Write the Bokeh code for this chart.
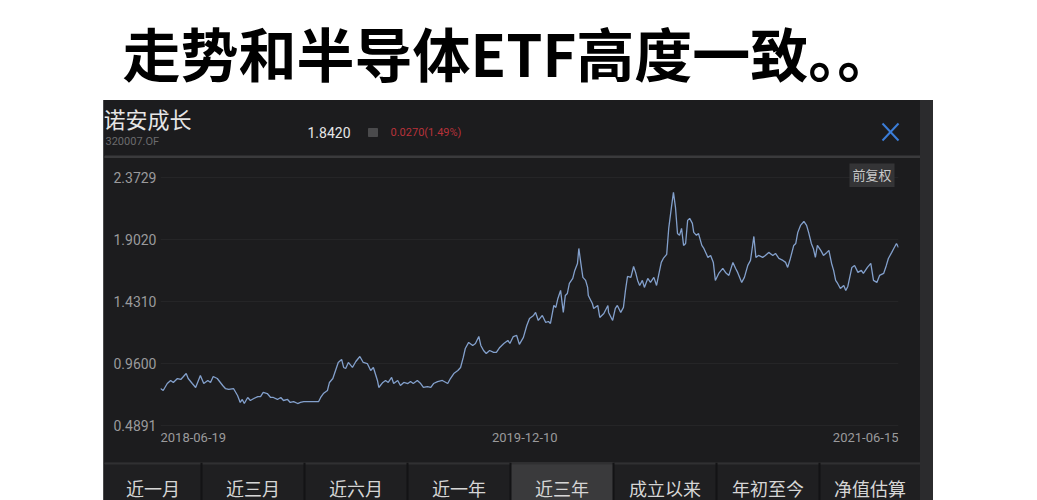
import pandas as pd
from bokeh.plotting import figure
from bokeh.models import Range1d, FixedTicker, PrintfTickFormatter, Spacer, ColumnDataSource
from bokeh.layouts import column, row
from bokeh.core.properties import value
from bokeh.embed import file_html
from bokeh.resources import INLINE

# ---------------- data ----------------
headline = "走势和半导体ETF高度一致。。"
fund_name = "诺安成长"
fund_code = "320007.OF"
latest_nav = "1.8420"
daily_change = "0.0270(1.49%)"
adjust_tag = "前复权"
y_ticks = [0.4891, 0.9600, 1.4310, 1.9020, 2.3729]
x_tick_dates = ["2018-06-19", "2019-12-10", "2021-06-15"]
tabs = ["近一月", "近三月", "近六月", "近一年", "近三年", "成立以来", "年初至今", "净值估算"]
selected_tab = "近三年"

dates = [
    "2018-06-19", "2018-06-23", "2018-06-29", "2018-07-04", "2018-07-08", "2018-07-14", "2018-07-19",
    "2018-07-23", "2018-07-27", "2018-07-30", "2018-08-05", "2018-08-10", "2018-08-17", "2018-08-22",
    "2018-08-28", "2018-09-01", "2018-09-05", "2018-09-11", "2018-09-19", "2018-09-23", "2018-09-28",
    "2018-10-05", "2018-10-11", "2018-10-15", "2018-10-18", "2018-10-21", "2018-10-26", "2018-10-30",
    "2018-11-04", "2018-11-10", "2018-11-14", "2018-11-18", "2018-11-24", "2018-11-29", "2018-12-03",
    "2018-12-09", "2018-12-14", "2018-12-18", "2018-12-24", "2018-12-28", "2019-01-02", "2019-01-08",
    "2019-01-12", "2019-01-17", "2019-01-24", "2019-01-31", "2019-02-08", "2019-02-11", "2019-02-15",
    "2019-02-21", "2019-02-24", "2019-03-01", "2019-03-05", "2019-03-09", "2019-03-14", "2019-03-17",
    "2019-03-20", "2019-03-24", "2019-03-30", "2019-04-04", "2019-04-10", "2019-04-15", "2019-04-21",
    "2019-04-26", "2019-04-30", "2019-05-06", "2019-05-08", "2019-05-14", "2019-05-18", "2019-05-22",
    "2019-05-27", "2019-05-30", "2019-06-05", "2019-06-09", "2019-06-14", "2019-06-20", "2019-06-24",
    "2019-06-28", "2019-07-04", "2019-07-09", "2019-07-13", "2019-07-19", "2019-07-24", "2019-07-28",
    "2019-08-03", "2019-08-10", "2019-08-18", "2019-08-22", "2019-08-27", "2019-09-02", "2019-09-06",
    "2019-09-10", "2019-09-13", "2019-09-18", "2019-09-24", "2019-09-28", "2019-10-03", "2019-10-06",
    "2019-10-10", "2019-10-14", "2019-10-19", "2019-10-25", "2019-10-29", "2019-11-03", "2019-11-09",
    "2019-11-15", "2019-11-18", "2019-11-23", "2019-11-28", "2019-12-02", "2019-12-08", "2019-12-13",
    "2019-12-17", "2019-12-23", "2019-12-26", "2019-12-30", "2020-01-05", "2020-01-10", "2020-01-14",
    "2020-01-17", "2020-01-22", "2020-01-25", "2020-01-28", "2020-02-01", "2020-02-05", "2020-02-08",
    "2020-02-11", "2020-02-14", "2020-02-19", "2020-02-22", "2020-02-26", "2020-02-28", "2020-03-02",
    "2020-03-05", "2020-03-09", "2020-03-12", "2020-03-13", "2020-03-19", "2020-03-21", "2020-03-27",
    "2020-03-30", "2020-04-05", "2020-04-11", "2020-04-12", "2020-04-18", "2020-04-22", "2020-04-25",
    "2020-04-30", "2020-05-04", "2020-05-07", "2020-05-10", "2020-05-15", "2020-05-19", "2020-05-22",
    "2020-05-25", "2020-05-28", "2020-06-01", "2020-06-04", "2020-06-09", "2020-06-13", "2020-06-18",
    "2020-06-22", "2020-06-25", "2020-06-29", "2020-07-02", "2020-07-07", "2020-07-10", "2020-07-14",
    "2020-07-17", "2020-07-20", "2020-07-23", "2020-07-26", "2020-07-29", "2020-08-01", "2020-08-04",
    "2020-08-07", "2020-08-10", "2020-08-14", "2020-08-16", "2020-08-20", "2020-08-23", "2020-08-28",
    "2020-08-31", "2020-09-06", "2020-09-10", "2020-09-14", "2020-09-17", "2020-09-22", "2020-09-28",
    "2020-10-02", "2020-10-07", "2020-10-13", "2020-10-17", "2020-10-20", "2020-10-26", "2020-10-30",
    "2020-11-04", "2020-11-08", "2020-11-13", "2020-11-16", "2020-11-20", "2020-11-26", "2020-11-30",
    "2020-12-05", "2020-12-11", "2020-12-15", "2020-12-20", "2020-12-26", "2020-12-30", "2021-01-02",
    "2021-01-06", "2021-01-11", "2021-01-14", "2021-01-17", "2021-01-21", "2021-01-26", "2021-01-30",
    "2021-02-02", "2021-02-06", "2021-02-09", "2021-02-12", "2021-02-15", "2021-02-20", "2021-02-24",
    "2021-03-01", "2021-03-04", "2021-03-08", "2021-03-11", "2021-03-14", "2021-03-17", "2021-03-21",
    "2021-03-26", "2021-03-29", "2021-04-01", "2021-04-07", "2021-04-11", "2021-04-16", "2021-04-21",
    "2021-04-24", "2021-04-30", "2021-05-05", "2021-05-09", "2021-05-14", "2021-05-18", "2021-05-24",
    "2021-05-28", "2021-05-31", "2021-06-05", "2021-06-08", "2021-06-12", "2021-06-15",
]
navs = [
    0.770, 0.755, 0.808, 0.831, 0.816, 0.846, 0.839,
    0.861, 0.884, 0.846, 0.808, 0.778, 0.869, 0.808,
    0.831, 0.816, 0.861, 0.846, 0.793, 0.770, 0.763,
    0.770, 0.717, 0.664, 0.687, 0.656, 0.702, 0.679,
    0.694, 0.709, 0.709, 0.740, 0.732, 0.702, 0.702,
    0.687, 0.702, 0.679, 0.687, 0.664, 0.671, 0.656,
    0.664, 0.671, 0.671, 0.671, 0.671, 0.702, 0.732,
    0.755, 0.816, 0.846, 0.907, 0.968, 0.991, 0.930,
    0.922, 0.968, 0.930, 0.975, 1.013, 0.968, 0.960,
    0.907, 0.930, 0.831, 0.778, 0.816, 0.831, 0.816,
    0.854, 0.808, 0.831, 0.793, 0.816, 0.808, 0.823,
    0.808, 0.831, 0.808, 0.778, 0.785, 0.778, 0.808,
    0.823, 0.831, 0.808, 0.846, 0.884, 0.907, 0.930,
    1.006, 1.074, 1.120, 1.097, 1.112, 1.165, 1.097,
    1.059, 1.036, 1.059, 1.044, 1.044, 1.082, 1.112,
    1.135, 1.112, 1.165, 1.173, 1.105, 1.158, 1.249,
    1.302, 1.325, 1.348, 1.287, 1.325, 1.272, 1.279,
    1.264, 1.401, 1.386, 1.454, 1.515, 1.348, 1.477,
    1.492, 1.568, 1.606, 1.667, 1.720, 1.834, 1.720,
    1.614, 1.591, 1.538, 1.477, 1.416, 1.378, 1.401,
    1.310, 1.340, 1.401, 1.348, 1.287, 1.378, 1.401,
    1.348, 1.386, 1.515, 1.621, 1.614, 1.697, 1.652,
    1.591, 1.553, 1.591, 1.538, 1.606, 1.576, 1.614,
    1.553, 1.629, 1.728, 1.758, 1.789, 1.986, 2.146,
    2.260, 2.146, 1.948, 1.933, 1.986, 1.857, 1.872,
    2.047, 2.062, 2.024, 1.956, 1.933, 1.948, 1.857,
    1.834, 1.766, 1.781, 1.728, 1.591, 1.644, 1.682,
    1.652, 1.629, 1.728, 1.682, 1.652, 1.576, 1.614,
    1.705, 1.743, 1.925, 1.766, 1.781, 1.766, 1.781,
    1.804, 1.781, 1.796, 1.758, 1.743, 1.728, 1.690,
    1.758, 1.857, 1.872, 1.956, 2.009, 2.039, 2.009,
    1.956, 1.872, 1.834, 1.766, 1.857, 1.819, 1.781,
    1.804, 1.819, 1.720, 1.667, 1.591, 1.568, 1.530,
    1.553, 1.515, 1.545, 1.690, 1.705, 1.652, 1.667,
    1.644, 1.690, 1.720, 1.591, 1.576, 1.629, 1.644,
    1.705, 1.758, 1.804, 1.834, 1.872, 1.842,
]

# ---------------- styling ----------------
BG = "#1c1c1e"
CJK = value("Noto Sans CJK SC")
NUM = value("Roboto")
PAGE_W = 1037
PANEL_W = 816


def blank_fig(w, h, bg):
    f = figure(width=w, height=h, x_range=Range1d(0, w), y_range=Range1d(h, 0),
               toolbar_location=None, output_backend="svg",
               x_axis_location=None, y_axis_location=None, min_border=0,
               background_fill_color=bg, border_fill_color=bg, outline_line_color=None)
    f.grid.grid_line_color = None
    f.grid.visible = False
    return f


# headline
title_fig = blank_fig(PAGE_W, 100, "white")
title_fig.text(x=[122], y=[51], text=[headline], text_font=CJK, text_font_style="bold",
               text_font_size="58px", text_color="#000000", text_baseline="middle", text_align="left")

# header of dark panel
head = blank_fig(PANEL_W, 58, BG)
head.text(x=[-1], y=[17], text=[fund_name], text_font=CJK, text_font_size="22px",
          text_color="#e6e6e6", text_baseline="middle")
head.text(x=[1], y=[41], text=[fund_code], text_font=NUM, text_font_size="11px",
          text_color="#6b6b6d", text_baseline="middle")
head.text(x=[203], y=[32], text=[latest_nav], text_font=NUM, text_font_size="14px",
          text_color="#e6e6e6", text_baseline="middle")
head.quad(left=[264], right=[273], top=[28], bottom=[36], color="#4a4a4c")
head.text(x=[286], y=[32], text=[daily_change], text_font=NUM, text_font_size="11px",
          text_color="#b8323a", text_baseline="middle")
head.segment(x0=[778, 778], y0=[23, 40], x1=[794, 794], y1=[40, 23], line_color="#3b7dd8", line_width=2)
head.quad(left=[0], right=[PANEL_W], top=[55.5], bottom=[58], color="#3a3a3c")

# chart
src = ColumnDataSource(dict(date=pd.to_datetime(dates), nav=navs))
chart = figure(width=PANEL_W, height=304, x_axis_type="datetime", x_axis_location=None,
               y_axis_location="left",
               x_range=Range1d(start=pd.Timestamp(x_tick_dates[0]), end=pd.Timestamp(x_tick_dates[-1])),
               y_range=Range1d(0.3220, 2.4792),
               toolbar_location=None, output_backend="svg",
               min_border_left=56, min_border_right=22, min_border_top=5, min_border_bottom=15,
               background_fill_color=BG, border_fill_color=BG, outline_line_color=None)
chart.xgrid.grid_line_color = None
chart.xgrid.visible = False
chart.yaxis.ticker = FixedTicker(ticks=y_ticks)
chart.yaxis.formatter = PrintfTickFormatter(format="%.4f")
chart.yaxis.axis_line_color = None
chart.yaxis.major_tick_line_color = None
chart.yaxis.minor_tick_line_color = None
chart.yaxis.major_tick_out = 0
chart.yaxis.major_tick_in = 0
chart.yaxis.major_label_standoff = 4
chart.yaxis.major_label_text_color = "#9a9a9c"
chart.yaxis.major_label_text_font = "Roboto"
chart.yaxis.major_label_text_font_size = "14px"
chart.ygrid.grid_line_color = "#252527"

chart.line(x="date", y="nav", source=src, line_color="#83a0cc", line_width=1.3)

for d, align in zip(x_tick_dates, ["left", "center", "right"]):
    chart.text(x=[pd.Timestamp(d)], y=[y_ticks[0]], text=[d], y_offset=12,
               text_align=align, text_baseline="middle", text_font=NUM,
               text_font_size="13px", text_color="#9a9a9c")

chart.text(x=[pd.Timestamp(x_tick_dates[-1])], y=[y_ticks[-1]], text=[adjust_tag],
           x_offset=-4, y_offset=-3, text_align="right", text_baseline="middle",
           text_font=CJK, text_font_size="13px", text_color="#c9c9c9",
           background_fill_color="#343436", padding=3)

# tab bar
bounds = [0, 97, 200, 303, 406, 509, 612, 715, PANEL_W]
tab_fig = blank_fig(PANEL_W, 38, "#1f1f21")
k = tabs.index(selected_tab)
tab_fig.quad(left=[bounds[k]], right=[bounds[k + 1]], top=[0], bottom=[38], color="#3a3a3c")
tab_fig.quad(left=[0], right=[PANEL_W], top=[0], bottom=[1.5], color="#303032")
tab_fig.segment(x0=bounds[1:-1], y0=[0] * 7, x1=bounds[1:-1], y1=[38] * 7,
                line_color="#131315", line_width=2)
centers = [(bounds[i] + bounds[i + 1]) / 2 for i in range(len(tabs))]
tab_fig.text(x=centers, y=[25] * len(tabs), text=tabs, text_align="center", text_baseline="middle",
             text_font=CJK, text_font_size="18px", text_color="#d6d6d6")

dark = {"background-color": BG}
panel = column(row(head, spacing=0, styles=dark), row(chart, spacing=0, styles=dark),
               row(tab_fig, spacing=0, styles=dark), spacing=0, styles=dark)
left_edge = Spacer(width=1, height=400, styles={"background-color": "#4a4a4c"})
right_strip = Spacer(width=13, height=400, styles={"background-color": "#2b2b2d"})
body = row(Spacer(width=103, height=400), left_edge, panel, right_strip,
           Spacer(width=104, height=400), spacing=0)
layout = column(title_fig, body, spacing=0)

open("out.html", "w").write(file_html(layout, INLINE))
